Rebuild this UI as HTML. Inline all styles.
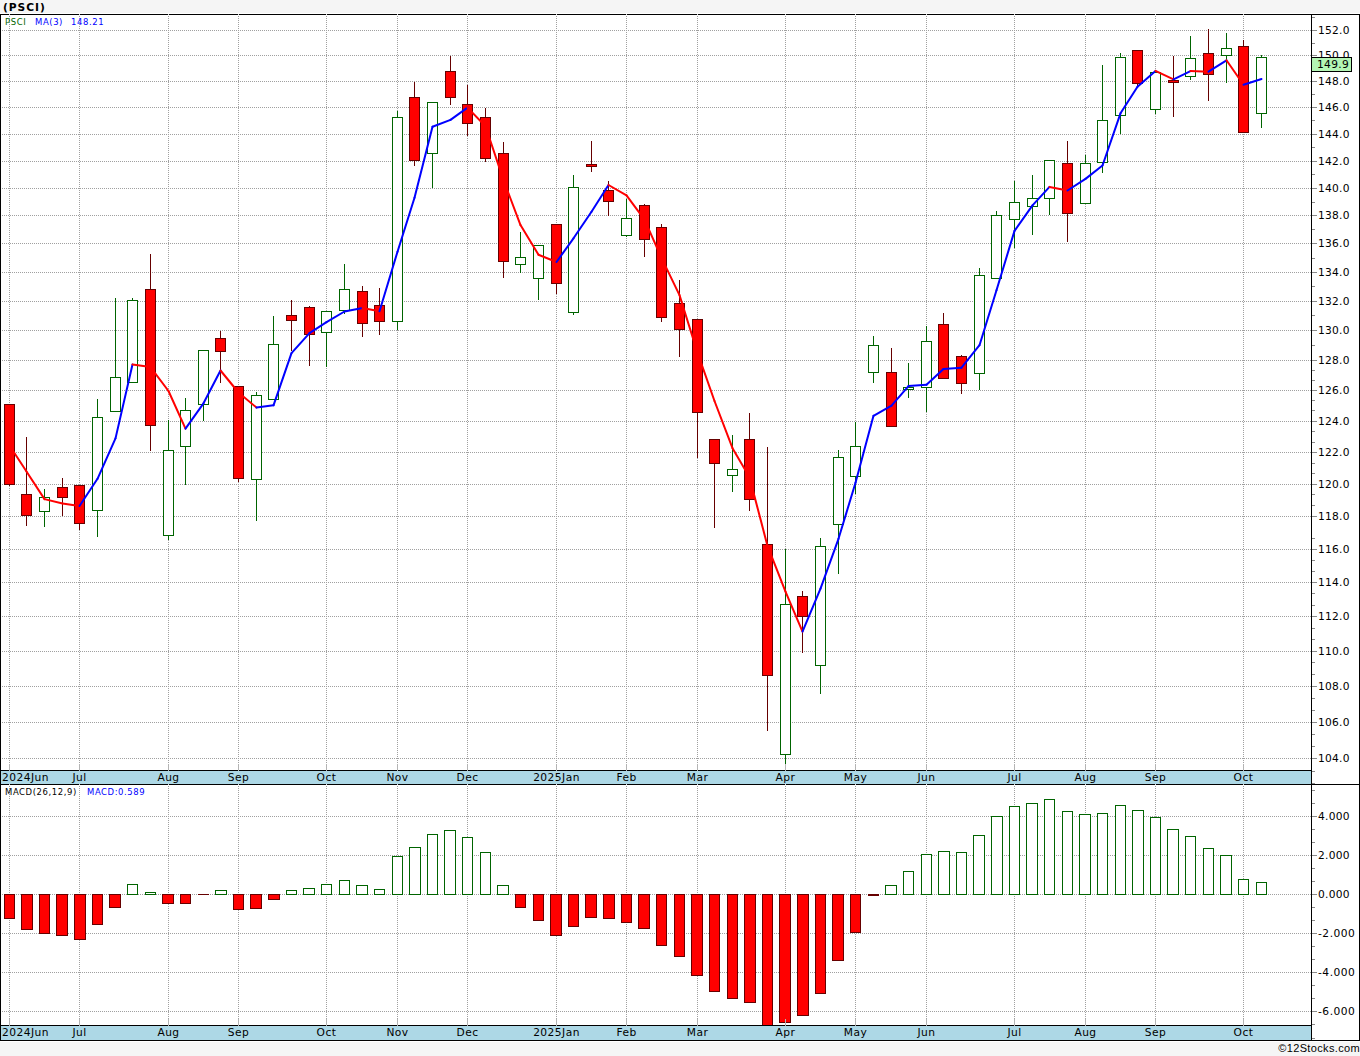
<!DOCTYPE html>
<html lang="en"><head><meta charset="utf-8"><title>(PSCI)</title>
<style>
html,body{margin:0;padding:0;background:#f5f5f5;}
body{width:1360px;height:1056px;position:relative;overflow:hidden;}
.t{position:absolute;white-space:nowrap;line-height:13px;height:13px;color:#000;
   font-family:"DejaVu Sans","Liberation Sans",sans-serif;font-size:10.67px;}
.ttl{font-weight:bold;letter-spacing:.95px;color:#000;}
.lg{font-family:"DejaVu Sans Condensed","DejaVu Sans","Liberation Sans",sans-serif;font-size:9.4px;font-stretch:condensed;letter-spacing:.6px;}
.ax{letter-spacing:.25px;color:#000;}
.xl{letter-spacing:.45px;}
.tag{position:absolute;left:1311px;top:57px;width:39px;height:13px;border:1px solid #000;background:#b4f5b4;}
.xc{width:81px;text-align:center;}
.cp{font-family:"Liberation Sans",sans-serif;font-size:11px;color:#000;letter-spacing:.35px;}
</style></head><body>
<svg width="1360" height="1056" viewBox="0 0 1360 1056" style="position:absolute;left:0;top:0;display:block">
<g shape-rendering="crispEdges">
<rect x="0" y="13" width="1360" height="1029" fill="#fff"/>
<g stroke="#a0a0a0" stroke-width="1" stroke-dasharray="1 1" fill="none">
<path d="M0 30.5H1311"/>
<path d="M0 55.5H1311"/>
<path d="M0 81.5H1311"/>
<path d="M0 107.5H1311"/>
<path d="M0 134.5H1311"/>
<path d="M0 161.5H1311"/>
<path d="M0 188.5H1311"/>
<path d="M0 215.5H1311"/>
<path d="M0 243.5H1311"/>
<path d="M0 272.5H1311"/>
<path d="M0 301.5H1311"/>
<path d="M0 330.5H1311"/>
<path d="M0 360.5H1311"/>
<path d="M0 390.5H1311"/>
<path d="M0 421.5H1311"/>
<path d="M0 452.5H1311"/>
<path d="M0 484.5H1311"/>
<path d="M0 516.5H1311"/>
<path d="M0 549.5H1311"/>
<path d="M0 582.5H1311"/>
<path d="M0 616.5H1311"/>
<path d="M0 651.5H1311"/>
<path d="M0 686.5H1311"/>
<path d="M0 722.5H1311"/>
<path d="M0 758.5H1311"/>
<path d="M9.5 14V764"/>
<path d="M79.5 14V764"/>
<path d="M168.5 14V764"/>
<path d="M238.5 14V764"/>
<path d="M326.5 14V764"/>
<path d="M397.5 14V764"/>
<path d="M467.5 14V764"/>
<path d="M556.5 14V764"/>
<path d="M626.5 14V764"/>
<path d="M697.5 14V764"/>
<path d="M785.5 14V764"/>
<path d="M855.5 14V764"/>
<path d="M926.5 14V764"/>
<path d="M1014.5 14V764"/>
<path d="M1085.5 14V764"/>
<path d="M1155.5 14V764"/>
<path d="M1243.5 14V764"/>
<path d="M0 816.5H1311"/>
<path d="M0 855.5H1311"/>
<path d="M0 894.5H1311"/>
<path d="M0 933.5H1311"/>
<path d="M0 972.5H1311"/>
<path d="M0 1011.5H1311"/>
<path d="M9.5 784V1019"/>
<path d="M79.5 784V1019"/>
<path d="M168.5 784V1019"/>
<path d="M238.5 784V1019"/>
<path d="M326.5 784V1019"/>
<path d="M397.5 784V1019"/>
<path d="M467.5 784V1019"/>
<path d="M556.5 784V1019"/>
<path d="M626.5 784V1019"/>
<path d="M697.5 784V1019"/>
<path d="M785.5 784V1019"/>
<path d="M855.5 784V1019"/>
<path d="M926.5 784V1019"/>
<path d="M1014.5 784V1019"/>
<path d="M1085.5 784V1019"/>
<path d="M1155.5 784V1019"/>
<path d="M1243.5 784V1019"/>
</g>
<rect x="9" y="404" width="1" height="82" fill="#660000"/>
<rect x="4" y="404" width="11" height="81" fill="#660000"/>
<rect x="5" y="405" width="9" height="79" fill="#ff0000"/>
<rect x="26" y="437" width="1" height="89" fill="#660000"/>
<rect x="21" y="494" width="11" height="22" fill="#660000"/>
<rect x="22" y="495" width="9" height="20" fill="#ff0000"/>
<rect x="44" y="489" width="1" height="38" fill="#006400"/>
<rect x="39" y="497" width="11" height="15" fill="#006400"/>
<rect x="40" y="498" width="9" height="13" fill="#fff"/>
<rect x="62" y="478" width="1" height="38" fill="#660000"/>
<rect x="57" y="487" width="11" height="11" fill="#660000"/>
<rect x="58" y="488" width="9" height="9" fill="#ff0000"/>
<rect x="79" y="485" width="1" height="45" fill="#660000"/>
<rect x="74" y="485" width="11" height="39" fill="#660000"/>
<rect x="75" y="486" width="9" height="37" fill="#ff0000"/>
<rect x="97" y="399" width="1" height="138" fill="#006400"/>
<rect x="92" y="417" width="11" height="94" fill="#006400"/>
<rect x="93" y="418" width="9" height="92" fill="#fff"/>
<rect x="115" y="298" width="1" height="114" fill="#006400"/>
<rect x="110" y="377" width="11" height="35" fill="#006400"/>
<rect x="111" y="378" width="9" height="33" fill="#fff"/>
<rect x="132" y="298" width="1" height="85" fill="#006400"/>
<rect x="127" y="300" width="11" height="83" fill="#006400"/>
<rect x="128" y="301" width="9" height="81" fill="#fff"/>
<rect x="150" y="254" width="1" height="197" fill="#660000"/>
<rect x="145" y="289" width="11" height="137" fill="#660000"/>
<rect x="146" y="290" width="9" height="135" fill="#ff0000"/>
<rect x="168" y="420" width="1" height="120" fill="#006400"/>
<rect x="163" y="450" width="11" height="86" fill="#006400"/>
<rect x="164" y="451" width="9" height="84" fill="#fff"/>
<rect x="185" y="398" width="1" height="87" fill="#006400"/>
<rect x="180" y="410" width="11" height="37" fill="#006400"/>
<rect x="181" y="411" width="9" height="35" fill="#fff"/>
<rect x="203" y="350" width="1" height="71" fill="#006400"/>
<rect x="198" y="350" width="11" height="55" fill="#006400"/>
<rect x="199" y="351" width="9" height="53" fill="#fff"/>
<rect x="220" y="331" width="1" height="52" fill="#660000"/>
<rect x="215" y="338" width="11" height="14" fill="#660000"/>
<rect x="216" y="339" width="9" height="12" fill="#ff0000"/>
<rect x="238" y="386" width="1" height="96" fill="#660000"/>
<rect x="233" y="386" width="11" height="93" fill="#660000"/>
<rect x="234" y="387" width="9" height="91" fill="#ff0000"/>
<rect x="256" y="392" width="1" height="129" fill="#006400"/>
<rect x="251" y="395" width="11" height="85" fill="#006400"/>
<rect x="252" y="396" width="9" height="83" fill="#fff"/>
<rect x="273" y="316" width="1" height="84" fill="#006400"/>
<rect x="268" y="344" width="11" height="56" fill="#006400"/>
<rect x="269" y="345" width="9" height="54" fill="#fff"/>
<rect x="291" y="300" width="1" height="51" fill="#660000"/>
<rect x="286" y="315" width="11" height="6" fill="#660000"/>
<rect x="287" y="316" width="9" height="4" fill="#ff0000"/>
<rect x="309" y="306" width="1" height="60" fill="#660000"/>
<rect x="304" y="307" width="11" height="28" fill="#660000"/>
<rect x="305" y="308" width="9" height="26" fill="#ff0000"/>
<rect x="326" y="311" width="1" height="56" fill="#006400"/>
<rect x="321" y="311" width="11" height="22" fill="#006400"/>
<rect x="322" y="312" width="9" height="20" fill="#fff"/>
<rect x="344" y="264" width="1" height="50" fill="#006400"/>
<rect x="339" y="289" width="11" height="22" fill="#006400"/>
<rect x="340" y="290" width="9" height="20" fill="#fff"/>
<rect x="362" y="286" width="1" height="51" fill="#660000"/>
<rect x="357" y="291" width="11" height="33" fill="#660000"/>
<rect x="358" y="292" width="9" height="31" fill="#ff0000"/>
<rect x="379" y="288" width="1" height="47" fill="#660000"/>
<rect x="374" y="305" width="11" height="17" fill="#660000"/>
<rect x="375" y="306" width="9" height="15" fill="#ff0000"/>
<rect x="397" y="111" width="1" height="219" fill="#006400"/>
<rect x="392" y="117" width="11" height="205" fill="#006400"/>
<rect x="393" y="118" width="9" height="203" fill="#fff"/>
<rect x="414" y="82" width="1" height="84" fill="#660000"/>
<rect x="409" y="97" width="11" height="64" fill="#660000"/>
<rect x="410" y="98" width="9" height="62" fill="#ff0000"/>
<rect x="432" y="102" width="1" height="86" fill="#006400"/>
<rect x="427" y="102" width="11" height="52" fill="#006400"/>
<rect x="428" y="103" width="9" height="50" fill="#fff"/>
<rect x="450" y="56" width="1" height="49" fill="#660000"/>
<rect x="445" y="71" width="11" height="27" fill="#660000"/>
<rect x="446" y="72" width="9" height="25" fill="#ff0000"/>
<rect x="467" y="85" width="1" height="51" fill="#660000"/>
<rect x="462" y="104" width="11" height="20" fill="#660000"/>
<rect x="463" y="105" width="9" height="18" fill="#ff0000"/>
<rect x="485" y="108" width="1" height="54" fill="#660000"/>
<rect x="480" y="117" width="11" height="42" fill="#660000"/>
<rect x="481" y="118" width="9" height="40" fill="#ff0000"/>
<rect x="503" y="142" width="1" height="136" fill="#660000"/>
<rect x="498" y="153" width="11" height="109" fill="#660000"/>
<rect x="499" y="154" width="9" height="107" fill="#ff0000"/>
<rect x="520" y="232" width="1" height="41" fill="#006400"/>
<rect x="515" y="257" width="11" height="8" fill="#006400"/>
<rect x="516" y="258" width="9" height="6" fill="#fff"/>
<rect x="538" y="245" width="1" height="55" fill="#006400"/>
<rect x="533" y="245" width="11" height="34" fill="#006400"/>
<rect x="534" y="246" width="9" height="32" fill="#fff"/>
<rect x="556" y="224" width="1" height="70" fill="#660000"/>
<rect x="551" y="224" width="11" height="60" fill="#660000"/>
<rect x="552" y="225" width="9" height="58" fill="#ff0000"/>
<rect x="573" y="175" width="1" height="140" fill="#006400"/>
<rect x="568" y="187" width="11" height="126" fill="#006400"/>
<rect x="569" y="188" width="9" height="124" fill="#fff"/>
<rect x="591" y="141" width="1" height="31" fill="#660000"/>
<rect x="586" y="164" width="11" height="3" fill="#660000"/>
<rect x="587" y="165" width="9" height="1" fill="#ff0000"/>
<rect x="608" y="181" width="1" height="35" fill="#660000"/>
<rect x="603" y="190" width="11" height="12" fill="#660000"/>
<rect x="604" y="191" width="9" height="10" fill="#ff0000"/>
<rect x="626" y="199" width="1" height="38" fill="#006400"/>
<rect x="621" y="218" width="11" height="18" fill="#006400"/>
<rect x="622" y="219" width="9" height="16" fill="#fff"/>
<rect x="644" y="204" width="1" height="53" fill="#660000"/>
<rect x="639" y="205" width="11" height="35" fill="#660000"/>
<rect x="640" y="206" width="9" height="33" fill="#ff0000"/>
<rect x="661" y="224" width="1" height="98" fill="#660000"/>
<rect x="656" y="227" width="11" height="91" fill="#660000"/>
<rect x="657" y="228" width="9" height="89" fill="#ff0000"/>
<rect x="679" y="280" width="1" height="77" fill="#660000"/>
<rect x="674" y="303" width="11" height="27" fill="#660000"/>
<rect x="675" y="304" width="9" height="25" fill="#ff0000"/>
<rect x="697" y="319" width="1" height="139" fill="#660000"/>
<rect x="692" y="319" width="11" height="94" fill="#660000"/>
<rect x="693" y="320" width="9" height="92" fill="#ff0000"/>
<rect x="714" y="439" width="1" height="89" fill="#660000"/>
<rect x="709" y="439" width="11" height="25" fill="#660000"/>
<rect x="710" y="440" width="9" height="23" fill="#ff0000"/>
<rect x="732" y="435" width="1" height="57" fill="#006400"/>
<rect x="727" y="469" width="11" height="7" fill="#006400"/>
<rect x="728" y="470" width="9" height="5" fill="#fff"/>
<rect x="749" y="413" width="1" height="98" fill="#660000"/>
<rect x="744" y="439" width="11" height="61" fill="#660000"/>
<rect x="745" y="440" width="9" height="59" fill="#ff0000"/>
<rect x="767" y="447" width="1" height="284" fill="#660000"/>
<rect x="762" y="544" width="11" height="132" fill="#660000"/>
<rect x="763" y="545" width="9" height="130" fill="#ff0000"/>
<rect x="785" y="549" width="1" height="221" fill="#006400"/>
<rect x="780" y="604" width="11" height="151" fill="#006400"/>
<rect x="781" y="605" width="9" height="149" fill="#fff"/>
<rect x="802" y="591" width="1" height="62" fill="#660000"/>
<rect x="797" y="596" width="11" height="21" fill="#660000"/>
<rect x="798" y="597" width="9" height="19" fill="#ff0000"/>
<rect x="820" y="538" width="1" height="156" fill="#006400"/>
<rect x="815" y="546" width="11" height="120" fill="#006400"/>
<rect x="816" y="547" width="9" height="118" fill="#fff"/>
<rect x="838" y="450" width="1" height="124" fill="#006400"/>
<rect x="833" y="457" width="11" height="68" fill="#006400"/>
<rect x="834" y="458" width="9" height="66" fill="#fff"/>
<rect x="855" y="422" width="1" height="72" fill="#006400"/>
<rect x="850" y="446" width="11" height="31" fill="#006400"/>
<rect x="851" y="447" width="9" height="29" fill="#fff"/>
<rect x="873" y="336" width="1" height="47" fill="#006400"/>
<rect x="868" y="345" width="11" height="28" fill="#006400"/>
<rect x="869" y="346" width="9" height="26" fill="#fff"/>
<rect x="891" y="348" width="1" height="79" fill="#660000"/>
<rect x="886" y="372" width="11" height="55" fill="#660000"/>
<rect x="887" y="373" width="9" height="53" fill="#ff0000"/>
<rect x="908" y="363" width="1" height="35" fill="#006400"/>
<rect x="903" y="387" width="11" height="3" fill="#006400"/>
<rect x="904" y="388" width="9" height="1" fill="#fff"/>
<rect x="926" y="326" width="1" height="86" fill="#006400"/>
<rect x="921" y="341" width="11" height="47" fill="#006400"/>
<rect x="922" y="342" width="9" height="45" fill="#fff"/>
<rect x="943" y="313" width="1" height="66" fill="#660000"/>
<rect x="938" y="324" width="11" height="55" fill="#660000"/>
<rect x="939" y="325" width="9" height="53" fill="#ff0000"/>
<rect x="961" y="355" width="1" height="39" fill="#660000"/>
<rect x="956" y="356" width="11" height="28" fill="#660000"/>
<rect x="957" y="357" width="9" height="26" fill="#ff0000"/>
<rect x="979" y="268" width="1" height="122" fill="#006400"/>
<rect x="974" y="275" width="11" height="99" fill="#006400"/>
<rect x="975" y="276" width="9" height="97" fill="#fff"/>
<rect x="996" y="211" width="1" height="68" fill="#006400"/>
<rect x="991" y="215" width="11" height="64" fill="#006400"/>
<rect x="992" y="216" width="9" height="62" fill="#fff"/>
<rect x="1014" y="181" width="1" height="67" fill="#006400"/>
<rect x="1009" y="202" width="11" height="18" fill="#006400"/>
<rect x="1010" y="203" width="9" height="16" fill="#fff"/>
<rect x="1032" y="175" width="1" height="60" fill="#006400"/>
<rect x="1027" y="198" width="11" height="9" fill="#006400"/>
<rect x="1028" y="199" width="9" height="7" fill="#fff"/>
<rect x="1049" y="160" width="1" height="55" fill="#006400"/>
<rect x="1044" y="160" width="11" height="39" fill="#006400"/>
<rect x="1045" y="161" width="9" height="37" fill="#fff"/>
<rect x="1067" y="141" width="1" height="101" fill="#660000"/>
<rect x="1062" y="163" width="11" height="51" fill="#660000"/>
<rect x="1063" y="164" width="9" height="49" fill="#ff0000"/>
<rect x="1085" y="155" width="1" height="49" fill="#006400"/>
<rect x="1080" y="163" width="11" height="41" fill="#006400"/>
<rect x="1081" y="164" width="9" height="39" fill="#fff"/>
<rect x="1102" y="65" width="1" height="108" fill="#006400"/>
<rect x="1097" y="120" width="11" height="43" fill="#006400"/>
<rect x="1098" y="121" width="9" height="41" fill="#fff"/>
<rect x="1120" y="53" width="1" height="81" fill="#006400"/>
<rect x="1115" y="57" width="11" height="59" fill="#006400"/>
<rect x="1116" y="58" width="9" height="57" fill="#fff"/>
<rect x="1137" y="50" width="1" height="36" fill="#660000"/>
<rect x="1132" y="50" width="11" height="34" fill="#660000"/>
<rect x="1133" y="51" width="9" height="32" fill="#ff0000"/>
<rect x="1155" y="72" width="1" height="42" fill="#006400"/>
<rect x="1150" y="72" width="11" height="38" fill="#006400"/>
<rect x="1151" y="73" width="9" height="36" fill="#fff"/>
<rect x="1173" y="56" width="1" height="61" fill="#660000"/>
<rect x="1168" y="80" width="11" height="3" fill="#660000"/>
<rect x="1169" y="81" width="9" height="1" fill="#ff0000"/>
<rect x="1190" y="36" width="1" height="44" fill="#006400"/>
<rect x="1185" y="58" width="11" height="19" fill="#006400"/>
<rect x="1186" y="59" width="9" height="17" fill="#fff"/>
<rect x="1208" y="29" width="1" height="72" fill="#660000"/>
<rect x="1203" y="53" width="11" height="22" fill="#660000"/>
<rect x="1204" y="54" width="9" height="20" fill="#ff0000"/>
<rect x="1226" y="33" width="1" height="50" fill="#006400"/>
<rect x="1221" y="48" width="11" height="8" fill="#006400"/>
<rect x="1222" y="49" width="9" height="6" fill="#fff"/>
<rect x="1243" y="40" width="1" height="93" fill="#660000"/>
<rect x="1238" y="46" width="11" height="87" fill="#660000"/>
<rect x="1239" y="47" width="9" height="85" fill="#ff0000"/>
<rect x="1261" y="55" width="1" height="73" fill="#006400"/>
<rect x="1256" y="57" width="11" height="57" fill="#006400"/>
<rect x="1257" y="58" width="9" height="55" fill="#fff"/>
<rect x="4" y="894" width="11" height="25" fill="#660000"/>
<rect x="5" y="895" width="9" height="23" fill="#ff0000"/>
<rect x="21" y="894" width="12" height="36" fill="#660000"/>
<rect x="22" y="895" width="10" height="34" fill="#ff0000"/>
<rect x="39" y="894" width="11" height="40" fill="#660000"/>
<rect x="40" y="895" width="9" height="38" fill="#ff0000"/>
<rect x="56" y="894" width="12" height="42" fill="#660000"/>
<rect x="57" y="895" width="10" height="40" fill="#ff0000"/>
<rect x="74" y="894" width="12" height="46" fill="#660000"/>
<rect x="75" y="895" width="10" height="44" fill="#ff0000"/>
<rect x="92" y="894" width="11" height="31" fill="#660000"/>
<rect x="93" y="895" width="9" height="29" fill="#ff0000"/>
<rect x="109" y="894" width="12" height="14" fill="#660000"/>
<rect x="110" y="895" width="10" height="12" fill="#ff0000"/>
<rect x="127" y="884" width="11" height="11" fill="#006400"/>
<rect x="128" y="885" width="9" height="9" fill="#fff"/>
<rect x="145" y="892" width="11" height="3" fill="#006400"/>
<rect x="146" y="893" width="9" height="1" fill="#fff"/>
<rect x="162" y="894" width="12" height="10" fill="#660000"/>
<rect x="163" y="895" width="10" height="8" fill="#ff0000"/>
<rect x="180" y="894" width="11" height="10" fill="#660000"/>
<rect x="181" y="895" width="9" height="8" fill="#ff0000"/>
<rect x="198" y="894" width="11" height="1" fill="#660000"/>
<rect x="215" y="890" width="12" height="5" fill="#006400"/>
<rect x="216" y="891" width="10" height="3" fill="#fff"/>
<rect x="233" y="894" width="11" height="16" fill="#660000"/>
<rect x="234" y="895" width="9" height="14" fill="#ff0000"/>
<rect x="250" y="894" width="12" height="15" fill="#660000"/>
<rect x="251" y="895" width="10" height="13" fill="#ff0000"/>
<rect x="268" y="894" width="12" height="6" fill="#660000"/>
<rect x="269" y="895" width="10" height="4" fill="#ff0000"/>
<rect x="286" y="890" width="11" height="5" fill="#006400"/>
<rect x="287" y="891" width="9" height="3" fill="#fff"/>
<rect x="303" y="888" width="12" height="7" fill="#006400"/>
<rect x="304" y="889" width="10" height="5" fill="#fff"/>
<rect x="321" y="884" width="11" height="11" fill="#006400"/>
<rect x="322" y="885" width="9" height="9" fill="#fff"/>
<rect x="339" y="880" width="11" height="15" fill="#006400"/>
<rect x="340" y="881" width="9" height="13" fill="#fff"/>
<rect x="356" y="885" width="12" height="10" fill="#006400"/>
<rect x="357" y="886" width="10" height="8" fill="#fff"/>
<rect x="374" y="889" width="11" height="6" fill="#006400"/>
<rect x="375" y="890" width="9" height="4" fill="#fff"/>
<rect x="392" y="856" width="11" height="39" fill="#006400"/>
<rect x="393" y="857" width="9" height="37" fill="#fff"/>
<rect x="409" y="847" width="12" height="48" fill="#006400"/>
<rect x="410" y="848" width="10" height="46" fill="#fff"/>
<rect x="427" y="834" width="11" height="61" fill="#006400"/>
<rect x="428" y="835" width="9" height="59" fill="#fff"/>
<rect x="444" y="830" width="12" height="65" fill="#006400"/>
<rect x="445" y="831" width="10" height="63" fill="#fff"/>
<rect x="462" y="837" width="11" height="58" fill="#006400"/>
<rect x="463" y="838" width="9" height="56" fill="#fff"/>
<rect x="480" y="852" width="11" height="43" fill="#006400"/>
<rect x="481" y="853" width="9" height="41" fill="#fff"/>
<rect x="497" y="885" width="12" height="10" fill="#006400"/>
<rect x="498" y="886" width="10" height="8" fill="#fff"/>
<rect x="515" y="894" width="11" height="14" fill="#660000"/>
<rect x="516" y="895" width="9" height="12" fill="#ff0000"/>
<rect x="533" y="894" width="11" height="27" fill="#660000"/>
<rect x="534" y="895" width="9" height="25" fill="#ff0000"/>
<rect x="550" y="894" width="12" height="42" fill="#660000"/>
<rect x="551" y="895" width="10" height="40" fill="#ff0000"/>
<rect x="568" y="894" width="11" height="33" fill="#660000"/>
<rect x="569" y="895" width="9" height="31" fill="#ff0000"/>
<rect x="585" y="894" width="12" height="24" fill="#660000"/>
<rect x="586" y="895" width="10" height="22" fill="#ff0000"/>
<rect x="603" y="894" width="12" height="25" fill="#660000"/>
<rect x="604" y="895" width="10" height="23" fill="#ff0000"/>
<rect x="621" y="894" width="11" height="29" fill="#660000"/>
<rect x="622" y="895" width="9" height="27" fill="#ff0000"/>
<rect x="638" y="894" width="12" height="35" fill="#660000"/>
<rect x="639" y="895" width="10" height="33" fill="#ff0000"/>
<rect x="656" y="894" width="11" height="52" fill="#660000"/>
<rect x="657" y="895" width="9" height="50" fill="#ff0000"/>
<rect x="674" y="894" width="11" height="63" fill="#660000"/>
<rect x="675" y="895" width="9" height="61" fill="#ff0000"/>
<rect x="691" y="894" width="12" height="82" fill="#660000"/>
<rect x="692" y="895" width="10" height="80" fill="#ff0000"/>
<rect x="709" y="894" width="11" height="98" fill="#660000"/>
<rect x="710" y="895" width="9" height="96" fill="#ff0000"/>
<rect x="727" y="894" width="11" height="105" fill="#660000"/>
<rect x="728" y="895" width="9" height="103" fill="#ff0000"/>
<rect x="744" y="894" width="12" height="109" fill="#660000"/>
<rect x="745" y="895" width="10" height="107" fill="#ff0000"/>
<rect x="762" y="894" width="11" height="131" fill="#660000"/>
<rect x="763" y="895" width="9" height="130" fill="#ff0000"/>
<rect x="779" y="894" width="12" height="129" fill="#660000"/>
<rect x="780" y="895" width="10" height="127" fill="#ff0000"/>
<rect x="797" y="894" width="12" height="122" fill="#660000"/>
<rect x="798" y="895" width="10" height="120" fill="#ff0000"/>
<rect x="815" y="894" width="11" height="100" fill="#660000"/>
<rect x="816" y="895" width="9" height="98" fill="#ff0000"/>
<rect x="832" y="894" width="12" height="67" fill="#660000"/>
<rect x="833" y="895" width="10" height="65" fill="#ff0000"/>
<rect x="850" y="894" width="11" height="39" fill="#660000"/>
<rect x="851" y="895" width="9" height="37" fill="#ff0000"/>
<rect x="868" y="894" width="11" height="2" fill="#660000"/>
<rect x="885" y="885" width="12" height="10" fill="#006400"/>
<rect x="886" y="886" width="10" height="8" fill="#fff"/>
<rect x="903" y="871" width="11" height="24" fill="#006400"/>
<rect x="904" y="872" width="9" height="22" fill="#fff"/>
<rect x="921" y="854" width="11" height="41" fill="#006400"/>
<rect x="922" y="855" width="9" height="39" fill="#fff"/>
<rect x="938" y="851" width="12" height="44" fill="#006400"/>
<rect x="939" y="852" width="10" height="42" fill="#fff"/>
<rect x="956" y="852" width="11" height="43" fill="#006400"/>
<rect x="957" y="853" width="9" height="41" fill="#fff"/>
<rect x="973" y="835" width="12" height="60" fill="#006400"/>
<rect x="974" y="836" width="10" height="58" fill="#fff"/>
<rect x="991" y="816" width="12" height="79" fill="#006400"/>
<rect x="992" y="817" width="10" height="77" fill="#fff"/>
<rect x="1009" y="806" width="11" height="89" fill="#006400"/>
<rect x="1010" y="807" width="9" height="87" fill="#fff"/>
<rect x="1026" y="803" width="12" height="92" fill="#006400"/>
<rect x="1027" y="804" width="10" height="90" fill="#fff"/>
<rect x="1044" y="799" width="11" height="96" fill="#006400"/>
<rect x="1045" y="800" width="9" height="94" fill="#fff"/>
<rect x="1062" y="811" width="11" height="84" fill="#006400"/>
<rect x="1063" y="812" width="9" height="82" fill="#fff"/>
<rect x="1079" y="814" width="12" height="81" fill="#006400"/>
<rect x="1080" y="815" width="10" height="79" fill="#fff"/>
<rect x="1097" y="813" width="11" height="82" fill="#006400"/>
<rect x="1098" y="814" width="9" height="80" fill="#fff"/>
<rect x="1115" y="805" width="11" height="90" fill="#006400"/>
<rect x="1116" y="806" width="9" height="88" fill="#fff"/>
<rect x="1132" y="810" width="12" height="85" fill="#006400"/>
<rect x="1133" y="811" width="10" height="83" fill="#fff"/>
<rect x="1150" y="817" width="11" height="78" fill="#006400"/>
<rect x="1151" y="818" width="9" height="76" fill="#fff"/>
<rect x="1167" y="829" width="12" height="66" fill="#006400"/>
<rect x="1168" y="830" width="10" height="64" fill="#fff"/>
<rect x="1185" y="836" width="11" height="59" fill="#006400"/>
<rect x="1186" y="837" width="9" height="57" fill="#fff"/>
<rect x="1203" y="848" width="11" height="47" fill="#006400"/>
<rect x="1204" y="849" width="9" height="45" fill="#fff"/>
<rect x="1220" y="855" width="12" height="40" fill="#006400"/>
<rect x="1221" y="856" width="10" height="38" fill="#fff"/>
<rect x="1238" y="879" width="11" height="16" fill="#006400"/>
<rect x="1239" y="880" width="9" height="14" fill="#fff"/>
<rect x="1256" y="882" width="11" height="13" fill="#006400"/>
<rect x="1257" y="883" width="9" height="11" fill="#fff"/>
<rect x="0" y="770" width="1311" height="15" fill="#000"/>
<rect x="1" y="771" width="1310" height="13" fill="#add8e6"/>
<rect x="0" y="1025" width="1311" height="16" fill="#000"/>
<rect x="1" y="1026" width="1310" height="14" fill="#add8e6"/>
<rect x="0" y="14" width="1360" height="1" fill="#000"/>
<rect x="0" y="14" width="1" height="1027" fill="#000"/>
<rect x="1359" y="14" width="1" height="1027" fill="#000"/>
<rect x="1311" y="14" width="1" height="1027" fill="#000"/>
<rect x="1311" y="784" width="49" height="1" fill="#000"/>
<rect x="0" y="1040" width="1360" height="1" fill="#000"/>
<g fill="#b4b4b4">
<rect x="9" y="764" width="1" height="7"/>
<rect x="9" y="1019" width="1" height="7"/>
<rect x="9" y="14" width="1" height="1" fill="#d8d8d8"/>
<rect x="9" y="784" width="1" height="1" fill="#d8d8d8"/>
<rect x="79" y="764" width="1" height="7"/>
<rect x="79" y="1019" width="1" height="7"/>
<rect x="79" y="14" width="1" height="1" fill="#d8d8d8"/>
<rect x="79" y="784" width="1" height="1" fill="#d8d8d8"/>
<rect x="168" y="764" width="1" height="7"/>
<rect x="168" y="1019" width="1" height="7"/>
<rect x="168" y="14" width="1" height="1" fill="#d8d8d8"/>
<rect x="168" y="784" width="1" height="1" fill="#d8d8d8"/>
<rect x="238" y="764" width="1" height="7"/>
<rect x="238" y="1019" width="1" height="7"/>
<rect x="238" y="14" width="1" height="1" fill="#d8d8d8"/>
<rect x="238" y="784" width="1" height="1" fill="#d8d8d8"/>
<rect x="326" y="764" width="1" height="7"/>
<rect x="326" y="1019" width="1" height="7"/>
<rect x="326" y="14" width="1" height="1" fill="#d8d8d8"/>
<rect x="326" y="784" width="1" height="1" fill="#d8d8d8"/>
<rect x="397" y="764" width="1" height="7"/>
<rect x="397" y="1019" width="1" height="7"/>
<rect x="397" y="14" width="1" height="1" fill="#d8d8d8"/>
<rect x="397" y="784" width="1" height="1" fill="#d8d8d8"/>
<rect x="467" y="764" width="1" height="7"/>
<rect x="467" y="1019" width="1" height="7"/>
<rect x="467" y="14" width="1" height="1" fill="#d8d8d8"/>
<rect x="467" y="784" width="1" height="1" fill="#d8d8d8"/>
<rect x="556" y="764" width="1" height="7"/>
<rect x="556" y="1019" width="1" height="7"/>
<rect x="556" y="14" width="1" height="1" fill="#d8d8d8"/>
<rect x="556" y="784" width="1" height="1" fill="#d8d8d8"/>
<rect x="626" y="764" width="1" height="7"/>
<rect x="626" y="1019" width="1" height="7"/>
<rect x="626" y="14" width="1" height="1" fill="#d8d8d8"/>
<rect x="626" y="784" width="1" height="1" fill="#d8d8d8"/>
<rect x="697" y="764" width="1" height="7"/>
<rect x="697" y="1019" width="1" height="7"/>
<rect x="697" y="14" width="1" height="1" fill="#d8d8d8"/>
<rect x="697" y="784" width="1" height="1" fill="#d8d8d8"/>
<rect x="785" y="764" width="1" height="7"/>
<rect x="785" y="1019" width="1" height="7"/>
<rect x="785" y="14" width="1" height="1" fill="#d8d8d8"/>
<rect x="785" y="784" width="1" height="1" fill="#d8d8d8"/>
<rect x="855" y="764" width="1" height="7"/>
<rect x="855" y="1019" width="1" height="7"/>
<rect x="855" y="14" width="1" height="1" fill="#d8d8d8"/>
<rect x="855" y="784" width="1" height="1" fill="#d8d8d8"/>
<rect x="926" y="764" width="1" height="7"/>
<rect x="926" y="1019" width="1" height="7"/>
<rect x="926" y="14" width="1" height="1" fill="#d8d8d8"/>
<rect x="926" y="784" width="1" height="1" fill="#d8d8d8"/>
<rect x="1014" y="764" width="1" height="7"/>
<rect x="1014" y="1019" width="1" height="7"/>
<rect x="1014" y="14" width="1" height="1" fill="#d8d8d8"/>
<rect x="1014" y="784" width="1" height="1" fill="#d8d8d8"/>
<rect x="1085" y="764" width="1" height="7"/>
<rect x="1085" y="1019" width="1" height="7"/>
<rect x="1085" y="14" width="1" height="1" fill="#d8d8d8"/>
<rect x="1085" y="784" width="1" height="1" fill="#d8d8d8"/>
<rect x="1155" y="764" width="1" height="7"/>
<rect x="1155" y="1019" width="1" height="7"/>
<rect x="1155" y="14" width="1" height="1" fill="#d8d8d8"/>
<rect x="1155" y="784" width="1" height="1" fill="#d8d8d8"/>
<rect x="1243" y="764" width="1" height="7"/>
<rect x="1243" y="1019" width="1" height="7"/>
<rect x="1243" y="14" width="1" height="1" fill="#d8d8d8"/>
<rect x="1243" y="784" width="1" height="1" fill="#d8d8d8"/>
</g>
<g fill="#8a8a8a">
<rect x="1312" y="30" width="5" height="1"/>
<rect x="1312" y="55" width="5" height="1"/>
<rect x="1312" y="81" width="5" height="1"/>
<rect x="1312" y="107" width="5" height="1"/>
<rect x="1312" y="134" width="5" height="1"/>
<rect x="1312" y="161" width="5" height="1"/>
<rect x="1312" y="188" width="5" height="1"/>
<rect x="1312" y="215" width="5" height="1"/>
<rect x="1312" y="243" width="5" height="1"/>
<rect x="1312" y="272" width="5" height="1"/>
<rect x="1312" y="301" width="5" height="1"/>
<rect x="1312" y="330" width="5" height="1"/>
<rect x="1312" y="360" width="5" height="1"/>
<rect x="1312" y="390" width="5" height="1"/>
<rect x="1312" y="421" width="5" height="1"/>
<rect x="1312" y="452" width="5" height="1"/>
<rect x="1312" y="484" width="5" height="1"/>
<rect x="1312" y="516" width="5" height="1"/>
<rect x="1312" y="549" width="5" height="1"/>
<rect x="1312" y="582" width="5" height="1"/>
<rect x="1312" y="616" width="5" height="1"/>
<rect x="1312" y="651" width="5" height="1"/>
<rect x="1312" y="686" width="5" height="1"/>
<rect x="1312" y="722" width="5" height="1"/>
<rect x="1312" y="758" width="5" height="1"/>
<rect x="1312" y="17" width="3" height="1"/>
<rect x="1312" y="43" width="3" height="1"/>
<rect x="1312" y="68" width="3" height="1"/>
<rect x="1312" y="94" width="3" height="1"/>
<rect x="1312" y="120" width="3" height="1"/>
<rect x="1312" y="147" width="3" height="1"/>
<rect x="1312" y="174" width="3" height="1"/>
<rect x="1312" y="202" width="3" height="1"/>
<rect x="1312" y="229" width="3" height="1"/>
<rect x="1312" y="258" width="3" height="1"/>
<rect x="1312" y="286" width="3" height="1"/>
<rect x="1312" y="315" width="3" height="1"/>
<rect x="1312" y="345" width="3" height="1"/>
<rect x="1312" y="370" width="3" height="1"/>
<rect x="1312" y="380" width="3" height="1"/>
<rect x="1312" y="400" width="3" height="1"/>
<rect x="1312" y="410" width="3" height="1"/>
<rect x="1312" y="431" width="3" height="1"/>
<rect x="1312" y="442" width="3" height="1"/>
<rect x="1312" y="463" width="3" height="1"/>
<rect x="1312" y="473" width="3" height="1"/>
<rect x="1312" y="494" width="3" height="1"/>
<rect x="1312" y="505" width="3" height="1"/>
<rect x="1312" y="538" width="3" height="1"/>
<rect x="1312" y="560" width="3" height="1"/>
<rect x="1312" y="571" width="3" height="1"/>
<rect x="1312" y="593" width="3" height="1"/>
<rect x="1312" y="605" width="3" height="1"/>
<rect x="1312" y="628" width="3" height="1"/>
<rect x="1312" y="639" width="3" height="1"/>
<rect x="1312" y="662" width="3" height="1"/>
<rect x="1312" y="674" width="3" height="1"/>
<rect x="1312" y="698" width="3" height="1"/>
<rect x="1312" y="710" width="3" height="1"/>
<rect x="1312" y="734" width="3" height="1"/>
<rect x="1312" y="746" width="3" height="1"/>
<rect x="1312" y="771" width="3" height="1"/>
<rect x="1312" y="783" width="3" height="1"/>
<rect x="1312" y="816" width="5" height="1"/>
<rect x="1312" y="855" width="5" height="1"/>
<rect x="1312" y="894" width="5" height="1"/>
<rect x="1312" y="933" width="5" height="1"/>
<rect x="1312" y="972" width="5" height="1"/>
<rect x="1312" y="1011" width="5" height="1"/>
<rect x="1312" y="790" width="3" height="1"/>
<rect x="1312" y="803" width="3" height="1"/>
<rect x="1312" y="829" width="3" height="1"/>
<rect x="1312" y="842" width="3" height="1"/>
<rect x="1312" y="868" width="3" height="1"/>
<rect x="1312" y="881" width="3" height="1"/>
<rect x="1312" y="907" width="3" height="1"/>
<rect x="1312" y="920" width="3" height="1"/>
<rect x="1312" y="946" width="3" height="1"/>
<rect x="1312" y="959" width="3" height="1"/>
<rect x="1312" y="985" width="3" height="1"/>
<rect x="1312" y="998" width="3" height="1"/>
<rect x="1312" y="1024" width="3" height="1"/>
<rect x="1312" y="1038" width="3" height="1"/>
</g>
</g>
<g fill="none" stroke-width="2" stroke-linecap="round">
<path d="M9.5 445.5L26.5 471.5" stroke="#ff0000"/>
<path d="M26.5 471.5L44.5 499.1" stroke="#ff0000"/>
<path d="M44.5 499.1L62.5 503.5" stroke="#ff0000"/>
<path d="M62.5 503.5L79.5 506.0" stroke="#ff0000"/>
<path d="M79.5 506.0L97.5 478.8" stroke="#0000ff"/>
<path d="M97.5 478.8L115.5 438.4" stroke="#0000ff"/>
<path d="M115.5 438.4L132.5 364.5" stroke="#0000ff"/>
<path d="M132.5 364.5L150.5 367.1" stroke="#ff0000"/>
<path d="M150.5 367.1L168.5 391.0" stroke="#ff0000"/>
<path d="M168.5 391.0L185.5 428.7" stroke="#ff0000"/>
<path d="M185.5 428.7L203.5 403.3" stroke="#0000ff"/>
<path d="M203.5 403.3L220.5 370.5" stroke="#0000ff"/>
<path d="M220.5 370.5L238.5 392.5" stroke="#ff0000"/>
<path d="M238.5 392.5L256.5 407.6" stroke="#ff0000"/>
<path d="M256.5 407.6L273.5 405.3" stroke="#0000ff"/>
<path d="M273.5 405.3L291.5 353.2" stroke="#0000ff"/>
<path d="M291.5 353.2L309.5 333.1" stroke="#0000ff"/>
<path d="M309.5 333.1L326.5 322.1" stroke="#0000ff"/>
<path d="M326.5 322.1L344.5 311.5" stroke="#0000ff"/>
<path d="M344.5 311.5L362.5 307.9" stroke="#0000ff"/>
<path d="M362.5 307.9L379.5 311.3" stroke="#ff0000"/>
<path d="M379.5 311.3L397.5 251.7" stroke="#0000ff"/>
<path d="M397.5 251.7L414.5 197.8" stroke="#0000ff"/>
<path d="M414.5 197.8L432.5 126.7" stroke="#0000ff"/>
<path d="M432.5 126.7L450.5 119.9" stroke="#0000ff"/>
<path d="M450.5 119.9L467.5 107.6" stroke="#0000ff"/>
<path d="M467.5 107.6L485.5 126.2" stroke="#ff0000"/>
<path d="M485.5 126.2L503.5 180.1" stroke="#ff0000"/>
<path d="M503.5 180.1L520.5 225.1" stroke="#ff0000"/>
<path d="M520.5 225.1L538.5 254.7" stroke="#ff0000"/>
<path d="M538.5 254.7L556.5 262.0" stroke="#ff0000"/>
<path d="M556.5 262.0L573.5 238.3" stroke="#0000ff"/>
<path d="M573.5 238.3L591.5 211.7" stroke="#0000ff"/>
<path d="M591.5 211.7L608.5 185.0" stroke="#0000ff"/>
<path d="M608.5 185.0L626.5 195.3" stroke="#ff0000"/>
<path d="M626.5 195.3L644.5 219.7" stroke="#ff0000"/>
<path d="M644.5 219.7L661.5 257.9" stroke="#ff0000"/>
<path d="M661.5 257.9L679.5 295.1" stroke="#ff0000"/>
<path d="M679.5 295.1L697.5 352.7" stroke="#ff0000"/>
<path d="M697.5 352.7L714.5 401.0" stroke="#ff0000"/>
<path d="M714.5 401.0L732.5 448.2" stroke="#ff0000"/>
<path d="M732.5 448.2L749.5 477.3" stroke="#ff0000"/>
<path d="M749.5 477.3L767.5 545.9" stroke="#ff0000"/>
<path d="M767.5 545.9L785.5 591.6" stroke="#ff0000"/>
<path d="M785.5 591.6L802.5 631.7" stroke="#ff0000"/>
<path d="M802.5 631.7L820.5 588.7" stroke="#0000ff"/>
<path d="M820.5 588.7L838.5 538.8" stroke="#0000ff"/>
<path d="M838.5 538.8L855.5 482.8" stroke="#0000ff"/>
<path d="M855.5 482.8L873.5 415.8" stroke="#0000ff"/>
<path d="M873.5 415.8L891.5 405.7" stroke="#0000ff"/>
<path d="M891.5 405.7L908.5 386.1" stroke="#0000ff"/>
<path d="M908.5 386.1L926.5 384.8" stroke="#0000ff"/>
<path d="M926.5 384.8L943.5 369.0" stroke="#0000ff"/>
<path d="M943.5 369.0L961.5 367.7" stroke="#0000ff"/>
<path d="M961.5 367.7L979.5 345.2" stroke="#0000ff"/>
<path d="M979.5 345.2L996.5 290.2" stroke="#0000ff"/>
<path d="M996.5 290.2L1014.5 230.9" stroke="#0000ff"/>
<path d="M1014.5 230.9L1032.5 205.4" stroke="#0000ff"/>
<path d="M1032.5 205.4L1049.5 186.9" stroke="#0000ff"/>
<path d="M1049.5 186.9L1067.5 190.5" stroke="#ff0000"/>
<path d="M1067.5 190.5L1085.5 178.9" stroke="#0000ff"/>
<path d="M1085.5 178.9L1102.5 165.5" stroke="#0000ff"/>
<path d="M1102.5 165.5L1120.5 113.3" stroke="#0000ff"/>
<path d="M1120.5 113.3L1137.5 86.8" stroke="#0000ff"/>
<path d="M1137.5 86.8L1155.5 70.9" stroke="#0000ff"/>
<path d="M1155.5 70.9L1173.5 79.3" stroke="#ff0000"/>
<path d="M1173.5 79.3L1190.5 71.1" stroke="#0000ff"/>
<path d="M1190.5 71.1L1208.5 71.7" stroke="#ff0000"/>
<path d="M1208.5 71.7L1226.5 60.3" stroke="#0000ff"/>
<path d="M1226.5 60.3L1243.5 84.7" stroke="#ff0000"/>
<path d="M1243.5 84.7L1261.5 79.0" stroke="#0000ff"/>
</g>
</svg>
<div class="t ttl" style="left:3px;top:1px">(PSCI)</div>
<div class="t lg" style="left:5px;top:15px;color:#006400">PSCI</div>
<div class="t lg" style="left:35px;top:15px;color:#0000ff">MA(3)</div>
<div class="t lg" style="left:71px;top:15px;color:#0000ff">148.21</div>
<div class="t lg" style="left:5px;top:785px;color:#000">MACD(26,12,9)</div>
<div class="t lg" style="left:87px;top:785px;color:#0000ff">MACD:0.589</div>
<div class="t ax" style="left:1318px;top:24px">152.0</div>
<div class="t ax" style="left:1318px;top:49px">150.0</div>
<div class="t ax" style="left:1318px;top:75px">148.0</div>
<div class="t ax" style="left:1318px;top:101px">146.0</div>
<div class="t ax" style="left:1318px;top:128px">144.0</div>
<div class="t ax" style="left:1318px;top:155px">142.0</div>
<div class="t ax" style="left:1318px;top:182px">140.0</div>
<div class="t ax" style="left:1318px;top:209px">138.0</div>
<div class="t ax" style="left:1318px;top:237px">136.0</div>
<div class="t ax" style="left:1318px;top:266px">134.0</div>
<div class="t ax" style="left:1318px;top:295px">132.0</div>
<div class="t ax" style="left:1318px;top:324px">130.0</div>
<div class="t ax" style="left:1318px;top:354px">128.0</div>
<div class="t ax" style="left:1318px;top:384px">126.0</div>
<div class="t ax" style="left:1318px;top:415px">124.0</div>
<div class="t ax" style="left:1318px;top:446px">122.0</div>
<div class="t ax" style="left:1318px;top:478px">120.0</div>
<div class="t ax" style="left:1318px;top:510px">118.0</div>
<div class="t ax" style="left:1318px;top:543px">116.0</div>
<div class="t ax" style="left:1318px;top:576px">114.0</div>
<div class="t ax" style="left:1318px;top:610px">112.0</div>
<div class="t ax" style="left:1318px;top:645px">110.0</div>
<div class="t ax" style="left:1318px;top:680px">108.0</div>
<div class="t ax" style="left:1318px;top:716px">106.0</div>
<div class="t ax" style="left:1318px;top:752px">104.0</div>
<div class="t ax" style="left:1318px;top:810px">4.000</div>
<div class="t ax" style="left:1318px;top:849px">2.000</div>
<div class="t ax" style="left:1318px;top:888px">0.000</div>
<div class="t ax" style="left:1318px;top:927px;letter-spacing:.5px">-2.000</div>
<div class="t ax" style="left:1318px;top:966px;letter-spacing:.5px">-4.000</div>
<div class="t ax" style="left:1318px;top:1005px;letter-spacing:.5px">-6.000</div>
<div class="tag"></div>
<div class="t ax" style="left:1317px;top:58px;color:#000;letter-spacing:.3px">149.9</div>
<div class="t ax xl" style="left:2px;top:771px">2024Jun</div>
<div class="t ax xl" style="left:2px;top:1026px">2024Jun</div>
<div class="t ax xl xc" style="left:39px;top:771px">Jul</div>
<div class="t ax xl xc" style="left:39px;top:1026px">Jul</div>
<div class="t ax xl xc" style="left:128px;top:771px">Aug</div>
<div class="t ax xl xc" style="left:128px;top:1026px">Aug</div>
<div class="t ax xl xc" style="left:198px;top:771px">Sep</div>
<div class="t ax xl xc" style="left:198px;top:1026px">Sep</div>
<div class="t ax xl xc" style="left:286px;top:771px">Oct</div>
<div class="t ax xl xc" style="left:286px;top:1026px">Oct</div>
<div class="t ax xl xc" style="left:357px;top:771px">Nov</div>
<div class="t ax xl xc" style="left:357px;top:1026px">Nov</div>
<div class="t ax xl xc" style="left:427px;top:771px">Dec</div>
<div class="t ax xl xc" style="left:427px;top:1026px">Dec</div>
<div class="t ax xl xc" style="left:516px;top:771px">2025Jan</div>
<div class="t ax xl xc" style="left:516px;top:1026px">2025Jan</div>
<div class="t ax xl xc" style="left:586px;top:771px">Feb</div>
<div class="t ax xl xc" style="left:586px;top:1026px">Feb</div>
<div class="t ax xl xc" style="left:657px;top:771px">Mar</div>
<div class="t ax xl xc" style="left:657px;top:1026px">Mar</div>
<div class="t ax xl xc" style="left:745px;top:771px">Apr</div>
<div class="t ax xl xc" style="left:745px;top:1026px">Apr</div>
<div class="t ax xl xc" style="left:815px;top:771px">May</div>
<div class="t ax xl xc" style="left:815px;top:1026px">May</div>
<div class="t ax xl xc" style="left:886px;top:771px">Jun</div>
<div class="t ax xl xc" style="left:886px;top:1026px">Jun</div>
<div class="t ax xl xc" style="left:974px;top:771px">Jul</div>
<div class="t ax xl xc" style="left:974px;top:1026px">Jul</div>
<div class="t ax xl xc" style="left:1045px;top:771px">Aug</div>
<div class="t ax xl xc" style="left:1045px;top:1026px">Aug</div>
<div class="t ax xl xc" style="left:1115px;top:771px">Sep</div>
<div class="t ax xl xc" style="left:1115px;top:1026px">Sep</div>
<div class="t ax xl xc" style="left:1203px;top:771px">Oct</div>
<div class="t ax xl xc" style="left:1203px;top:1026px">Oct</div>
<div class="t cp" style="right:0px;top:1042px">&copy;12Stocks.com</div>
</body></html>
